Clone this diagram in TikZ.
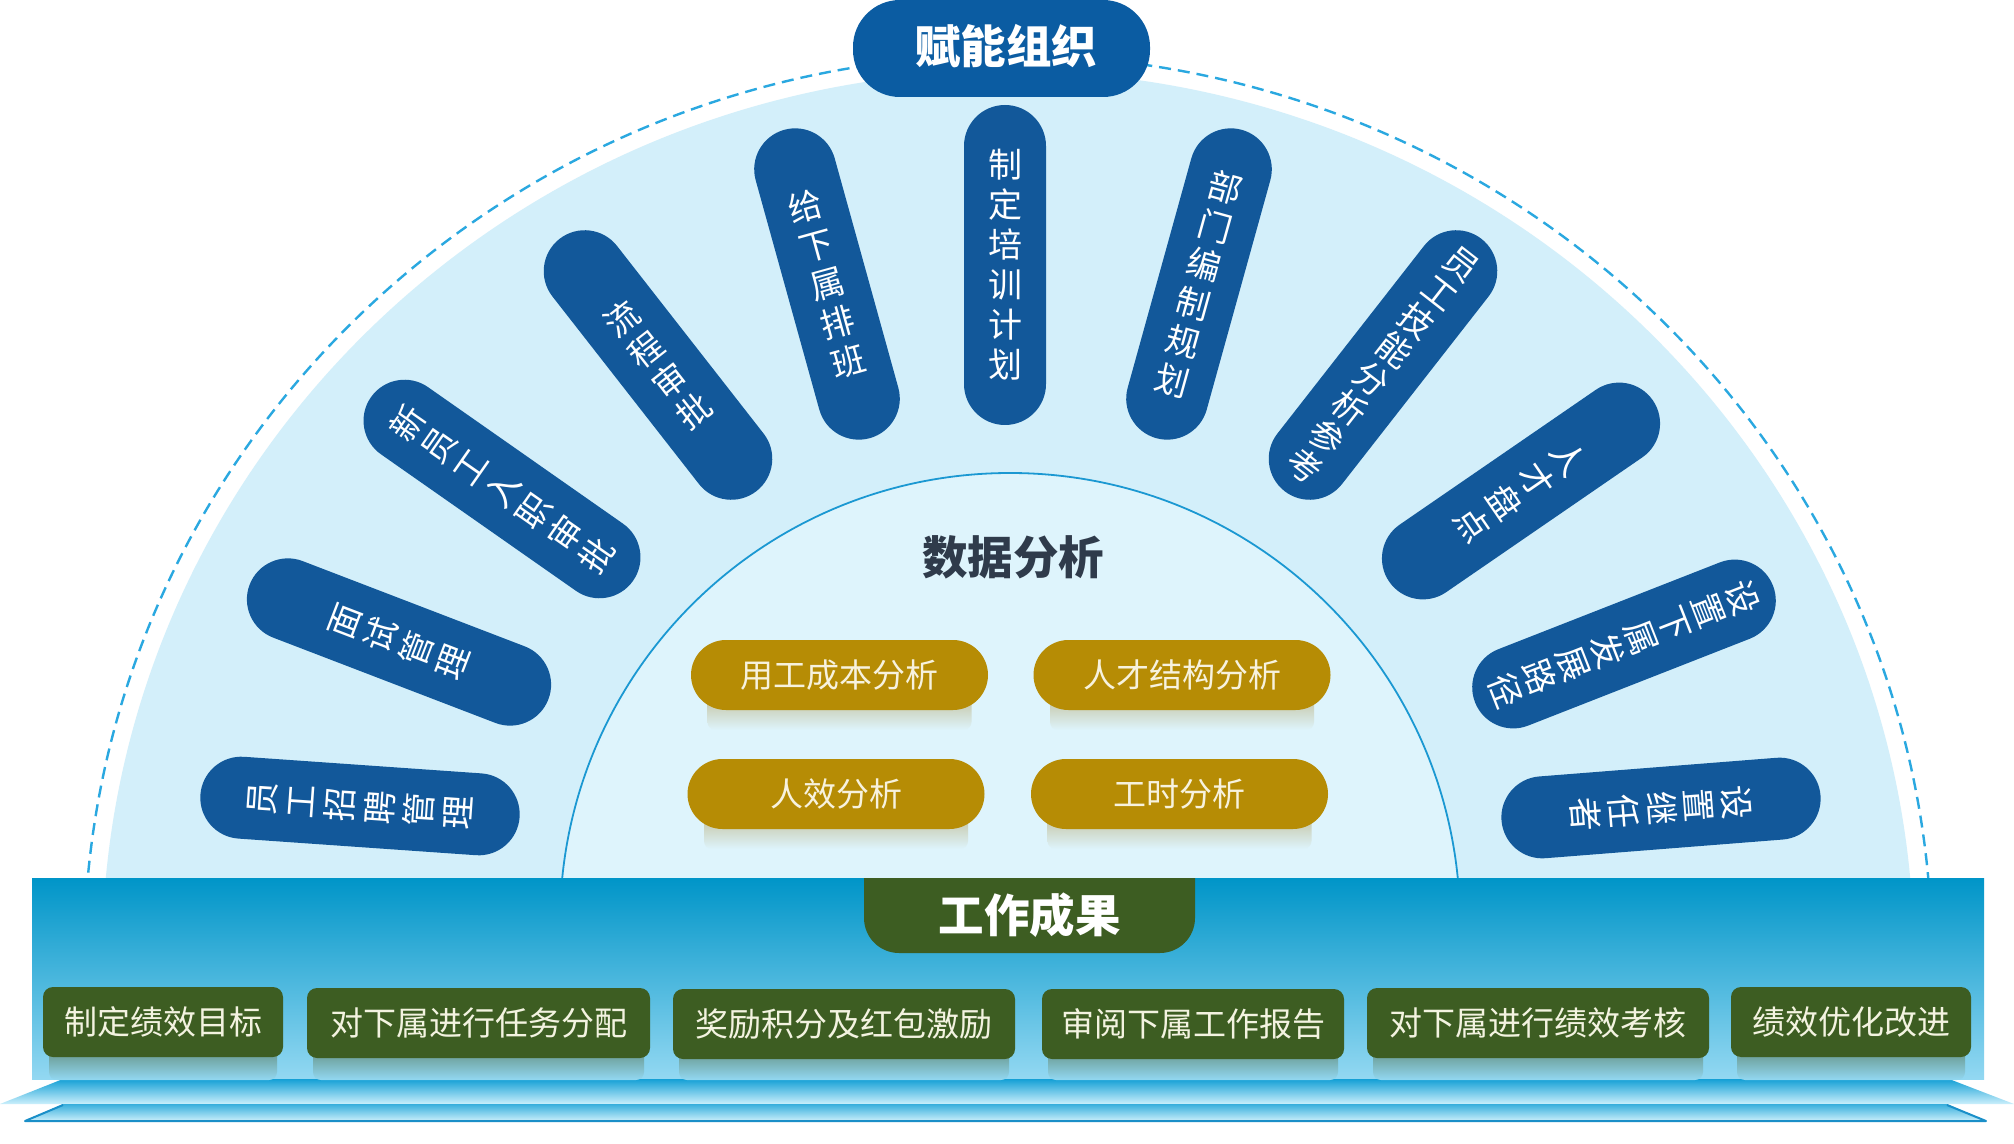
\documentclass[tikz,border=0pt]{standalone}
\usepackage{fontspec}
\setmainfont{Noto Sans CJK SC}
\definecolor{pillblue}{HTML}{12589A}
\definecolor{topblue}{HTML}{0B5CA2}
\definecolor{outerfill}{HTML}{D3EFFA}
\definecolor{innerfill}{HTML}{DEF4FC}
\definecolor{innerline}{HTML}{1B98D2}
\definecolor{dashblue}{HTML}{2AA8E0}
\definecolor{goldc}{HTML}{B68C05}
\definecolor{goldtext}{HTML}{F7F2DE}
\definecolor{goldshadow}{HTML}{C4C4A2}
\definecolor{darkgreen}{HTML}{3D5D22}
\definecolor{greentext}{HTML}{F3F3E0}
\definecolor{greenshadow}{HTML}{5E8A78}
\definecolor{titlegrey}{HTML}{2F3B4B}
\definecolor{bandtop}{HTML}{0095C8}
\definecolor{bandmid}{HTML}{2EAADB}
\definecolor{bandbot}{HTML}{93D8F2}
\definecolor{slabtop}{HTML}{14A0D6}
\definecolor{slabbot}{HTML}{CBEFFB}
\definecolor{slabline}{HTML}{1A8FC8}
\newcommand\pillfont[1]{\fontsize{17pt}{#1}\selectfont}
\tikzset{
  bluepill/.style={rectangle, rounded corners=20.5pt, fill=pillblue, text=white,
    minimum width=41pt, minimum height=160pt, inner sep=0pt, align=center},
  goldpill/.style={rectangle, rounded corners=17.5pt, fill=goldc, text=goldtext,
    minimum width=148.5pt, minimum height=35pt, inner sep=0pt,
    font=\fontsize{16.5pt}{18pt}\selectfont},
  greenbox/.style={rectangle, rounded corners=5pt, fill=darkgreen, text=greentext,
    minimum height=35pt, inner sep=0pt, font=\fontsize{16.5pt}{18pt}\selectfont},
  titletext/.style={inner sep=0pt, font=\fontsize{22.75pt}{26pt}\selectfont\bfseries},
}
\begin{document}
\begin{tikzpicture}[x=0.5pt,y=0.5pt]
\useasboundingbox (0,0) rectangle (2014,-1144);
\fill[white] (0,0) rectangle (2014,-1144);

% semicircles
\begin{scope}
  \clip (0,0) rectangle (2014,-878);
  \fill[outerfill] (1008,-960) ellipse [x radius=906, y radius=889];
  \draw[dashblue, line width=1.2pt, dash pattern=on 6pt off 3.5pt] (1008,-960) ellipse [x radius=924, y radius=905];
  \fill[innerfill] (1010,-923) circle [radius=450];
  \draw[innerline, line width=0.9pt] (1010,-923) circle [radius=450];
\end{scope}

% top box
\node[rectangle, rounded corners=23.5pt, fill=topblue, minimum width=148.5pt, minimum height=48.5pt, inner sep=0pt] (topbox) at (1001.5,-48.5) {};
\node[titletext, text=white] (toptitle) at (1006,-46) {赋能组织};

% blue pills
\node[bluepill, rotate=86, font=\pillfont{19.7pt}] (p1) at (360,-806) {员\\工\\招\\聘\\管\\理};
\node[bluepill, rotate=69, font=\pillfont{19.2pt}] (p2) at (399,-642) {面\\试\\管\\理};
\node[bluepill, rotate=55, font=\pillfont{19.3pt}] (p3) at (502,-489) {新\\员\\工\\入\\职\\审\\批};
\node[bluepill, rotate=38, font=\pillfont{19.4pt}] (p4) at (658,-365) {流\\程\\审\\批};
\node[bluepill, rotate=15.5, font=\pillfont{20pt}] (p5) at (827,-284) {给\\下\\属\\排\\班};
\node[bluepill, rotate=0, font=\pillfont{20pt}] (p6) at (1005,-265) {制\\定\\培\\训\\计\\划};
\node[bluepill, rotate=-15.5, font=\pillfont{20pt}] (p7) at (1199,-284) {部\\门\\编\\制\\规\\划};
\node[bluepill, rotate=-38, font=\pillfont{18.3pt}] (p8) at (1383,-365) {员\\工\\技\\能\\分\\析\\参\\考};
\node[bluepill, rotate=-55.5, font=\pillfont{19.5pt}] (p9) at (1521,-491) {人\\才\\盘\\点};
\node[bluepill, rotate=-68.6, font=\pillfont{18.2pt}] (p10) at (1624,-644) {设\\置\\下\\属\\发\\展\\路\\径};
\node[bluepill, rotate=-85.5, font=\pillfont{19pt}] (p11) at (1661,-808) {设\\置\\继\\任\\者};

% data analysis
\node[titletext, text=titlegrey] (datatitle) at (1013,-557) {数据分析};
\foreach \cx/\cy in {839.5/-675, 1182/-675, 836/-794, 1179.5/-794}{
  \shade[top color=goldshadow, bottom color=innerfill, rounded corners=4pt]
    (\cx-132,\cy-22) rectangle (\cx+132,\cy-55);
}
\node[goldpill] (g1) at (839.5,-675) {用工成本分析};
\node[goldpill] (g2) at (1182,-675) {人才结构分析};
\node[goldpill] (g3) at (836,-794) {人效分析};
\node[goldpill] (g4) at (1179.5,-794) {工时分析};

% band
\shade[top color=bandtop, middle color=bandmid, bottom color=bandbot] (32,-878) rectangle (1984,-1079);
\shade[top color=slabtop, bottom color=slabbot] (63,-1079) -- (1949,-1079) -- (2014,-1104) -- (0,-1104) -- cycle;
\shade[top color=slabtop!85!white, bottom color=slabbot] (63,-1104) -- (1947,-1104) -- (1986,-1121) -- (25,-1121) -- cycle;
\draw[slabline, line width=1pt, line join=round] (63,-1105) -- (25,-1121) -- (1986,-1121) -- (1947,-1105);

% work results box
\fill[darkgreen] (864,-878) {[rounded corners=17.5pt] -- (864,-953) -- (1195,-953)} -- (1195,-878) -- cycle;
\node[titletext, text=white] (worktitle) at (1029.5,-915) {工作成果};

% green boxes with shadows
\foreach \xa/\xb in {43/283, 307/650, 673/1015, 1042/1344, 1367/1709, 1731/1971}{
  \shade[top color=greenshadow, bottom color=bandbot, rounded corners=4pt]
    (\xa+6,-1045) rectangle (\xb-6,-1080);
}
\node[greenbox, minimum width=120pt] (w1) at (163,-1022) {制定绩效目标};
\node[greenbox, minimum width=171.5pt] (w2) at (478.5,-1023) {对下属进行任务分配};
\node[greenbox, minimum width=171pt] (w3) at (844,-1024) {奖励积分及红包激励};
\node[greenbox, minimum width=151pt] (w4) at (1193,-1024) {审阅下属工作报告};
\node[greenbox, minimum width=171pt] (w5) at (1538,-1023) {对下属进行绩效考核};
\node[greenbox, minimum width=120pt] (w6) at (1851,-1022) {绩效优化改进};
\end{tikzpicture}
\end{document}
